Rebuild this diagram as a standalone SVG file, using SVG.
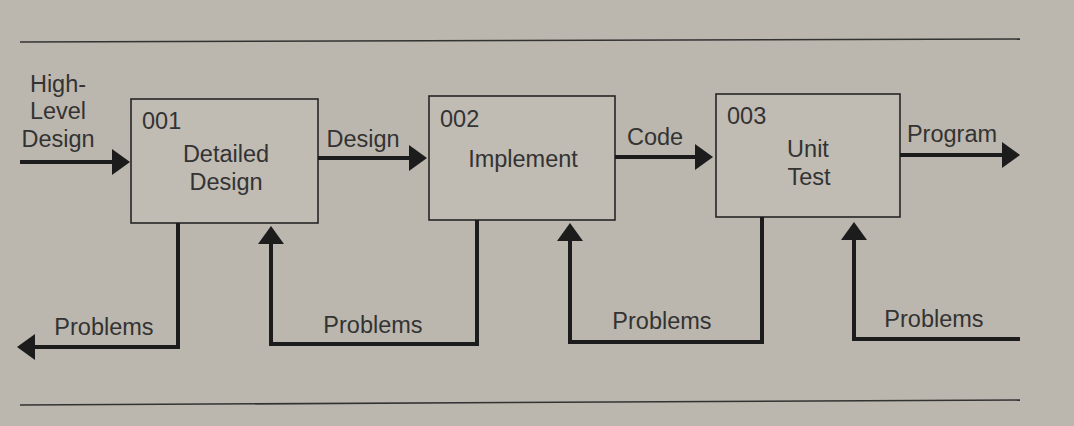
<svg xmlns="http://www.w3.org/2000/svg" width="1074" height="426" viewBox="0 0 1074 426">
<defs>
<style>
.lbl{font-family:"Liberation Sans",Arial,sans-serif;font-size:23.5px;fill:#333;}
.mid{text-anchor:middle;}
.box{fill:#c0bbb3;stroke:#262626;stroke-width:1.6;}
.conn{fill:none;stroke:#1c1c1c;stroke-width:4;stroke-linejoin:miter;}
.rule{stroke:#333;stroke-width:1.6;}
</style>
<marker id="ah" viewBox="0 0 18 26" refX="10" refY="13" markerWidth="18" markerHeight="26" markerUnits="userSpaceOnUse" orient="auto">
<path d="M0,0 L18,13 L0,26 z" fill="#1c1c1c"/>
</marker>
</defs>
<rect width="1074" height="426" fill="#bcb7ae"/>
<line class="rule" x1="20" y1="42" x2="1020" y2="39"/>
<line class="rule" x1="20" y1="405" x2="1020" y2="400"/>

<g id="n001">
<rect class="box" x="131" y="99" width="187" height="124"/>
<text class="lbl" x="142" y="129">001</text>
<text class="lbl mid" x="226" y="162">Detailed</text>
<text class="lbl mid" x="226" y="190">Design</text>
</g>
<g id="n002">
<rect class="box" x="429" y="96" width="186" height="124"/>
<text class="lbl" x="440" y="127">002</text>
<text class="lbl mid" x="523" y="167">Implement</text>
</g>
<g id="n003">
<rect class="box" x="716" y="94" width="184" height="123"/>
<text class="lbl" x="727" y="124">003</text>
<text class="lbl mid" x="808" y="157">Unit</text>
<text class="lbl mid" x="809" y="185">Test</text>
</g>

<g id="connectors">
<path class="conn" d="M20,162 H122" marker-end="url(#ah)"/>
<path class="conn" d="M318,158 H419" marker-end="url(#ah)"/>
<path class="conn" d="M615,157 H705" marker-end="url(#ah)"/>
<path class="conn" d="M900,155 H1012" marker-end="url(#ah)"/>
<path class="conn" d="M178,223 V347 H25" marker-end="url(#ah)"/>
<path class="conn" d="M477,220 V344 H271 V234" marker-end="url(#ah)"/>
<path class="conn" d="M762,217 V342 H570 V231" marker-end="url(#ah)"/>
<path class="conn" d="M1020,339 H854 V230" marker-end="url(#ah)"/>
</g>

<g id="labels">
<text class="lbl mid" x="58" y="92">High-</text>
<text class="lbl mid" x="58" y="119">Level</text>
<text class="lbl mid" x="58" y="147">Design</text>
<text class="lbl mid" x="363" y="147">Design</text>
<text class="lbl mid" x="655" y="145">Code</text>
<text class="lbl mid" x="952" y="142">Program</text>
<text class="lbl mid" x="104" y="335">Problems</text>
<text class="lbl mid" x="373" y="333">Problems</text>
<text class="lbl mid" x="662" y="329">Problems</text>
<text class="lbl mid" x="934" y="327">Problems</text>
</g>
</svg>
